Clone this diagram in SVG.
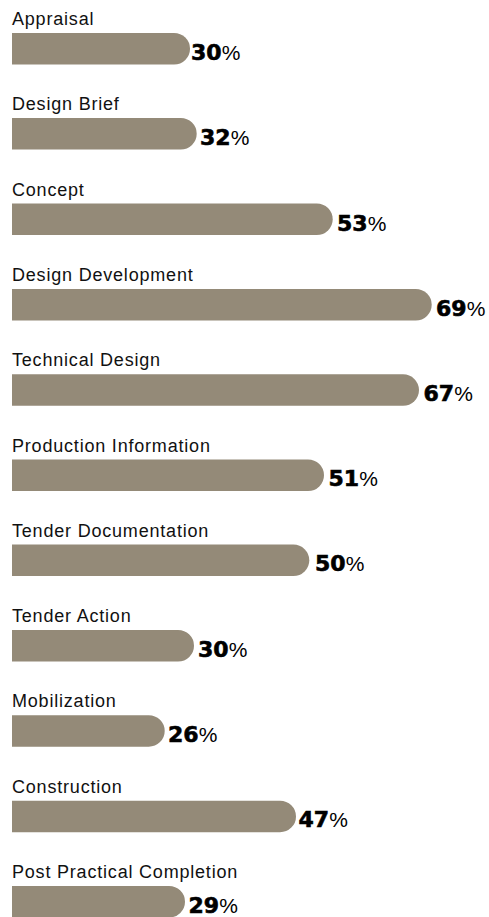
<svg xmlns="http://www.w3.org/2000/svg" width="489" height="917" viewBox="0 0 489 917">
<style>
.lbl{font-family:"Liberation Sans",Arial,sans-serif;font-size:18px;letter-spacing:0.8px;fill:#111}
.bar{fill:#948a78}
.val{font-family:"DejaVu Sans",Verdana,sans-serif;font-weight:bold;font-size:22px;fill:#000;stroke:#000;stroke-width:0.6px}
.pc{font-family:"Liberation Sans",Arial,sans-serif;font-weight:normal;font-size:21px;stroke:none}
</style>
<rect width="489" height="917" fill="#fff"/>
<g id="appraisal">
<text class="lbl" x="12" y="25">Appraisal</text>
<path class="bar" d="M12 33H174A16 15.75 0 0 1 174 64.5H12Z"/>
<text class="val" x="191" y="60">30<tspan class="pc">%</tspan></text>
</g>
<g id="design-brief">
<text class="lbl" x="12" y="110">Design Brief</text>
<path class="bar" d="M12 118H180.7A16 15.75 0 0 1 180.7 149.5H12Z"/>
<text class="val" x="200" y="145">32<tspan class="pc">%</tspan></text>
</g>
<g id="concept">
<text class="lbl" x="12" y="195.5">Concept</text>
<path class="bar" d="M12 203.5H316.7A16 15.75 0 0 1 316.7 235H12Z"/>
<text class="val" x="337" y="230.5">53<tspan class="pc">%</tspan></text>
</g>
<g id="design-development">
<text class="lbl" x="12" y="281">Design Development</text>
<path class="bar" d="M12 289H415.7A16 15.75 0 0 1 415.7 320.5H12Z"/>
<text class="val" x="436" y="315.5">69<tspan class="pc">%</tspan></text>
</g>
<g id="technical-design">
<text class="lbl" x="12" y="366.3">Technical Design</text>
<path class="bar" d="M12 374.3H403A16 15.75 0 0 1 403 405.8H12Z"/>
<text class="val" x="423.5" y="400.8">67<tspan class="pc">%</tspan></text>
</g>
<g id="production-information">
<text class="lbl" x="12" y="451.5">Production Information</text>
<path class="bar" d="M12 459.5H308A16 15.75 0 0 1 308 491H12Z"/>
<text class="val" x="328.5" y="486">51<tspan class="pc">%</tspan></text>
</g>
<g id="tender-documentation">
<text class="lbl" x="12" y="536.6">Tender Documentation</text>
<path class="bar" d="M12 544.6H293.3A16 15.75 0 0 1 293.3 576.1H12Z"/>
<text class="val" x="315" y="571.1">50<tspan class="pc">%</tspan></text>
</g>
<g id="tender-action">
<text class="lbl" x="12" y="622">Tender Action</text>
<path class="bar" d="M12 630H178A16 15.75 0 0 1 178 661.5H12Z"/>
<text class="val" x="198" y="656.5">30<tspan class="pc">%</tspan></text>
</g>
<g id="mobilization">
<text class="lbl" x="12" y="707.2">Mobilization</text>
<path class="bar" d="M12 715.2H148.7A16 15.75 0 0 1 148.7 746.7H12Z"/>
<text class="val" x="168" y="741.7">26<tspan class="pc">%</tspan></text>
</g>
<g id="construction">
<text class="lbl" x="12" y="792.7">Construction</text>
<path class="bar" d="M12 800.7H280A16 15.75 0 0 1 280 832.2H12Z"/>
<text class="val" x="298.5" y="827.2">47<tspan class="pc">%</tspan></text>
</g>
<g id="post-practical-completion">
<text class="lbl" x="12" y="878">Post Practical Completion</text>
<path class="bar" d="M12 886H169A16 15.75 0 0 1 169 917.5H12Z"/>
<text class="val" x="188.5" y="912.5">29<tspan class="pc">%</tspan></text>
</g>
<g id="connectors"/>
</svg>
